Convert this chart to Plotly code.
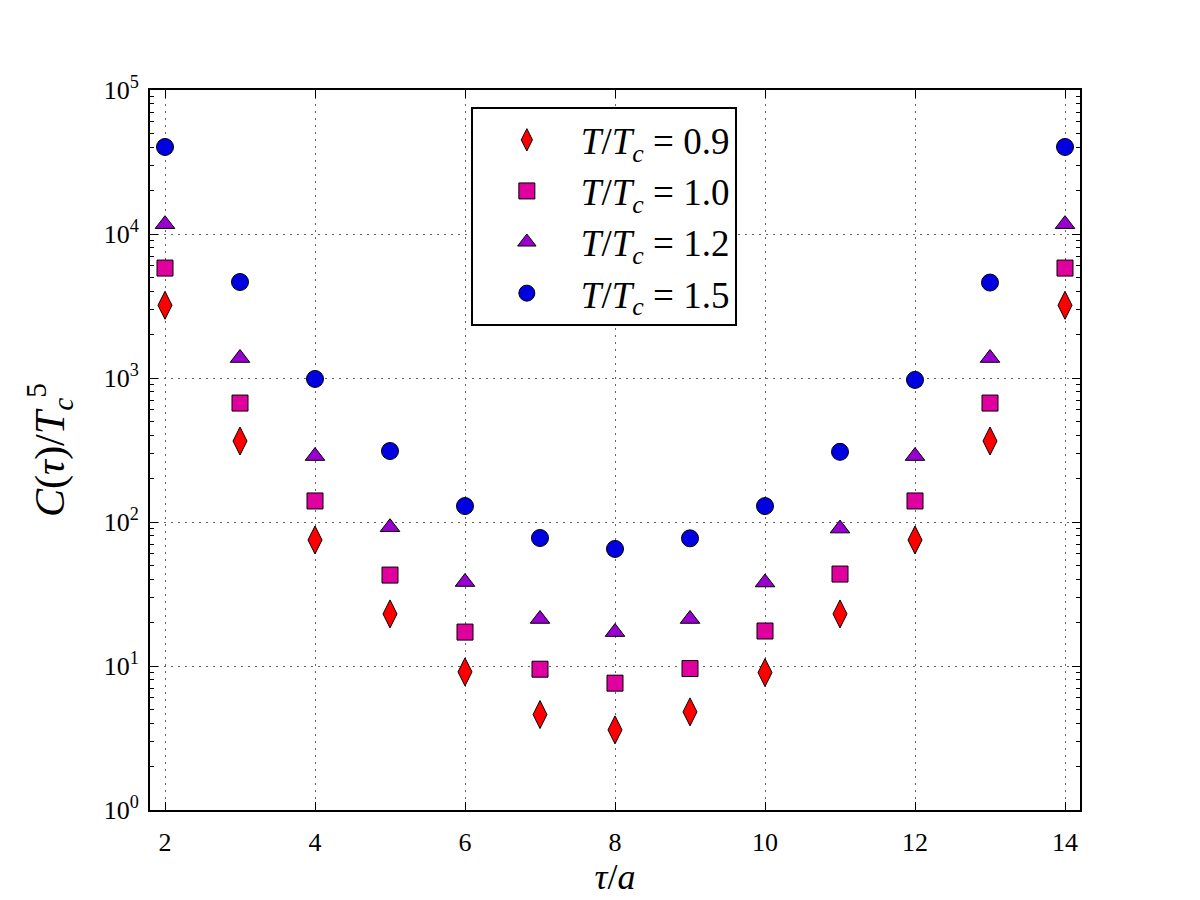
import plotly.graph_objects as go

tau = [2, 3, 4, 5, 6, 7, 8, 9, 10, 11, 12, 13, 14]
c_09 = [3200, 365, 75, 23, 9.1, 4.6, 3.6, 4.8, 9.0, 23, 75, 365, 3200]
c_10 = [5800, 670, 140, 42.8, 17.2, 9.5, 7.6, 9.6, 17.5, 43.5, 140, 670, 5800]
c_12 = [11700, 1376, 287, 92, 38.3, 21.2, 17.2, 21.2, 38, 90, 287, 1376, 11700]
c_15 = [40200, 4640, 985, 311, 129, 77.4, 65, 77, 129, 307, 970, 4600, 40200]

series = [
    ("<i>T</i>/<i>T</i><sub><i>c</i></sub> = 0.9", c_09, "#ff0000", "diamond-tall", 20),
    ("<i>T</i>/<i>T</i><sub><i>c</i></sub> = 1.0", c_10, "#e000a0", "square", 16),
    ("<i>T</i>/<i>T</i><sub><i>c</i></sub> = 1.2", c_12, "#9900d0", "triangle-up", 17),
    ("<i>T</i>/<i>T</i><sub><i>c</i></sub> = 1.5", c_15, "#0000e0", "circle", 17),
]

fig = go.Figure()
for i, (name, vals, col, sym, sz) in enumerate(series):
    fig.add_trace(go.Scatter(
        x=tau, y=vals, mode="markers", name=name, legendgroup=f"g{i}",
        marker=dict(symbol=sym, size=sz, color=col, line=dict(color="black", width=1)),
    ))

font_family = "Liberation Serif, DejaVu Serif, serif"
ytick_vals = [1, 10, 100, 1000, 10000, 100000]
ytick_text = ["10<sup>%d</sup>" % k for k in range(6)]

grid_style = dict(showgrid=True, gridcolor="#666666", griddash="2px,5px", gridwidth=1.3)

fig.update_layout(
    width=1200, height=900,
    margin=dict(l=150, r=120, t=90, b=90),
    paper_bgcolor="white", plot_bgcolor="white",
    font=dict(family=font_family, color="black", size=24),
    showlegend=True,
    legend=dict(
        x=0.345, y=0.976, xanchor="left", yanchor="top",
        bordercolor="black", borderwidth=2, bgcolor="white",
        font=dict(size=37, family=font_family),
        tracegroupgap=0, itemsizing="trace", itemwidth=98,
    ),
    xaxis=dict(
        range=[1.8, 14.2], tickvals=[2, 4, 6, 8, 10, 12, 14],
        ticks="inside", ticklen=8, tickcolor="black",
        showline=True, linecolor="black", linewidth=2, mirror="ticks",
        zeroline=False, ticklabelstandoff=8, automargin=False,
        tickfont=dict(size=26),
        title=dict(text="<i>τ</i>/<i>a</i>", font=dict(size=36), standoff=8),
        **grid_style,
    ),
    yaxis=dict(
        type="log", range=[0, 5], tickvals=ytick_vals, ticktext=ytick_text,
        ticks="inside", ticklen=8, tickcolor="black",
        showline=True, linecolor="black", linewidth=2, mirror="ticks",
        zeroline=False, ticklabelstandoff=4, automargin=False,
        minor=dict(ticks="inside", ticklen=4, tickcolor="black", showgrid=False,
                   dtick="D1"),
        tickfont=dict(size=26),
        title=dict(text="<i>C</i>(<i>τ</i>)/<i>T</i><sub><i>c</i></sub><sup>5</sup>",
                   font=dict(size=42), standoff=26),
        **grid_style,
    ),
)

fig.write_html("out.html")
